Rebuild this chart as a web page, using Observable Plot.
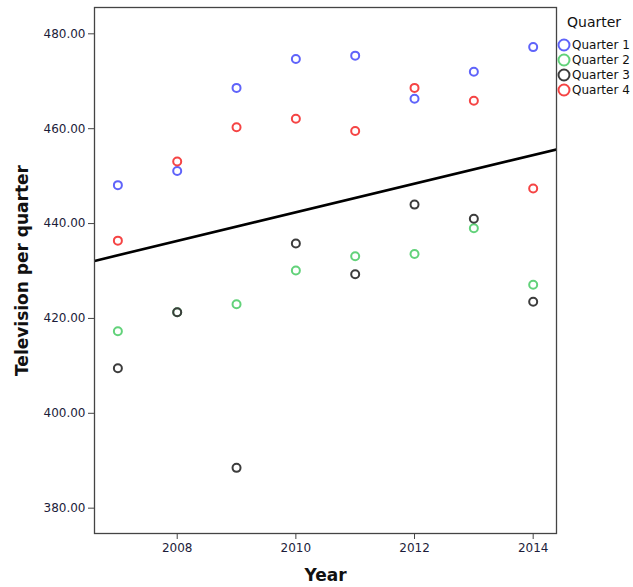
<!DOCTYPE html>
<html>
<head>
<meta charset="utf-8">
<script src="https://cdn.jsdelivr.net/npm/d3@7"></script>
<script src="https://cdn.jsdelivr.net/npm/@observablehq/plot@0.6"></script>
<style>
  html, body { margin: 0; padding: 0; background: #fff; }
  #wrap { position: relative; width: 633px; height: 587px; font-family: "DejaVu Sans", sans-serif; }
  #legend { position: absolute; left: 557px; top: 14px; font-size: 12px; color: #111; }
  #legend .title { font-size: 14px; margin-left: 10px; margin-bottom: 7px; }
  #legend .item { display: flex; align-items: center; height: 15px; }
  #legend svg { margin-right: 1px; }
</style>
</head>
<body>
<div id="wrap"><div id="legend"></div></div>
<script>
const years = [2007, 2008, 2009, 2010, 2011, 2012, 2013, 2014];
const quarters = ["Quarter 1", "Quarter 2", "Quarter 3", "Quarter 4"];
const q1 = [448.1, 451.1, 468.6, 474.7, 475.4, 466.3, 472.0, 477.2];
const q2 = [417.3, 421.3, 423.0, 430.1, 433.1, 433.6, 439.0, 427.1];
const q3 = [409.5, 421.3, 388.5, 435.8, 429.3, 444.0, 441.0, 423.5];
const q4 = [436.4, 453.1, 460.3, 462.1, 459.5, 468.6, 465.9, 447.4];
const colors = ["#5f63fa", "#62d27a", "#3c3c3c", "#f54444"];
const yTicks = [380, 400, 420, 440, 460, 480];
const xTicks = [2008, 2010, 2012, 2014];

const series = [q1, q2, q3, q4];
const data = [];
series.forEach((vals, qi) => vals.forEach((v, i) => data.push({year: years[i], value: v, quarter: quarters[qi]})));

const xDomain = [2006.606, 2014.393];
const yDomain = [374.66, 485.55];

// least-squares fit over all points, drawn across the frame
const mx = d3.mean(data, d => d.year), my = d3.mean(data, d => d.value);
const slope = d3.sum(data, d => (d.year - mx) * (d.value - my)) / d3.sum(data, d => (d.year - mx) ** 2);
const fit = xDomain.map(x => ({year: x, value: my + slope * (x - mx)}));

const chart = Plot.plot({
  width: 633,
  height: 587,
  marginLeft: 94,
  marginTop: 7,
  marginRight: 77,
  marginBottom: 54,
  style: {fontFamily: "DejaVu Sans, sans-serif", fontSize: "12px", color: "#1c1c3a", background: "#fff"},
  x: {domain: xDomain, ticks: xTicks, tickFormat: d => String(d), tickSize: 6, tickPadding: 5, label: null},
  y: {domain: yDomain, ticks: yTicks, tickFormat: d => d.toFixed(2), tickSize: 6, tickPadding: 3, label: null},
  color: {domain: quarters, range: colors},
  marks: [
    Plot.line(fit, {x: "year", y: "value", stroke: "#000", strokeWidth: 2.6, clip: true}),
    Plot.dot(data, {x: "year", y: "value", stroke: "quarter", r: 4, strokeWidth: 2, fill: "none"}),
    Plot.frame({stroke: "#444", strokeWidth: 1.3}),
    Plot.axisX({ticks: xTicks, tickFormat: d => String(d), tickSize: 6, tickPadding: 4, stroke: "#444", fill: "#1c1c3a", fontSize: 12, label: null}),
    Plot.axisY({ticks: yTicks, tickFormat: d => d.toFixed(2), tickSize: 6, tickPadding: 3, stroke: "#444", fill: "#1c1c3a", fontSize: 12, label: null}),
    Plot.text(["Year"], {frameAnchor: "bottom", dy: 47, fontWeight: "bold", fontSize: 17, fill: "#111"}),
    Plot.text(["Television per quarter"], {frameAnchor: "left", textAnchor: "middle", dx: -72, rotate: -90, fontWeight: "bold", fontSize: 17, fill: "#111"})
  ]
});
document.getElementById("wrap").prepend(chart);
chart.style.position = "absolute";
chart.style.left = "0";
chart.style.top = "0";

const legend = document.getElementById("legend");
const t = document.createElement("div");
t.className = "title";
t.textContent = "Quarter";
legend.appendChild(t);
quarters.forEach((q, i) => {
  const item = document.createElement("div");
  item.className = "item";
  item.innerHTML = `<svg width="14" height="14"><circle cx="7" cy="7" r="5.5" fill="none" stroke="${colors[i]}" stroke-width="2"/></svg><span>${q}</span>`;
  legend.appendChild(item);
});
</script>
</body>
</html>
